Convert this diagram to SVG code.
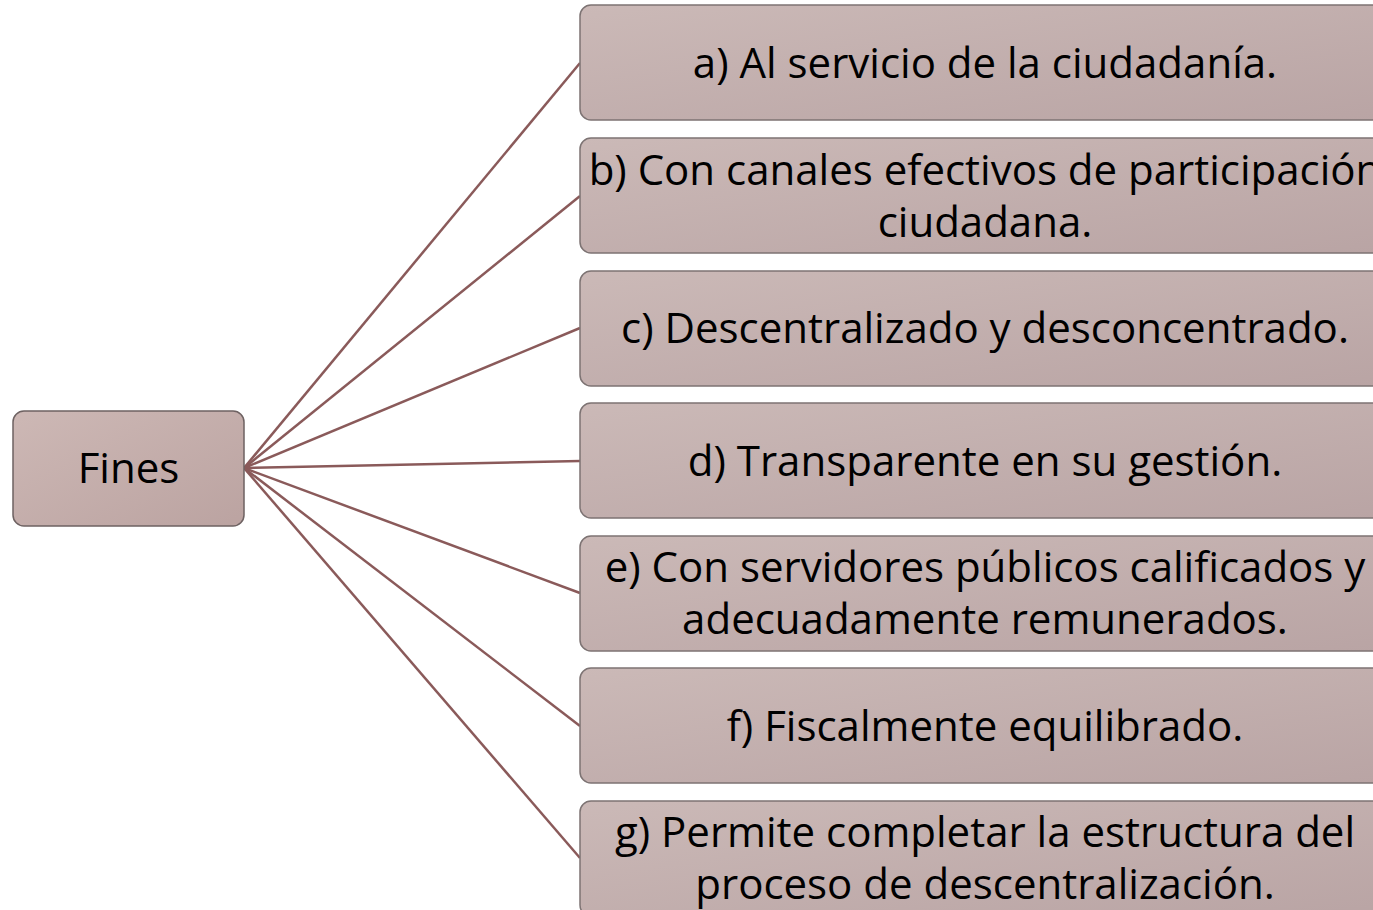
<svg xmlns="http://www.w3.org/2000/svg" width="1373" height="910" viewBox="0 0 1373 910">
<defs>
<linearGradient id="gb" x1="0" y1="0" x2="1" y2="1">
<stop offset="0" stop-color="#cbb9b7"/>
<stop offset="1" stop-color="#b9a4a4"/>
</linearGradient>
<linearGradient id="gf" x1="0" y1="0" x2="1" y2="1">
<stop offset="0" stop-color="#cdb8b5"/>
<stop offset="1" stop-color="#bba3a1"/>
</linearGradient>
<style>
.box{fill:url(#gb);stroke:#7d7373;stroke-width:1.5}
.fin{fill:url(#gf);stroke:#6e6262;stroke-width:1.5}
.t{font-family:"Open Sans","Noto Sans",sans-serif;font-size:42px;fill:#000;text-anchor:middle}
.c{stroke:#8a5a5a;stroke-width:2.5;fill:none}
</style>
</defs>
<g id="connectors">
<line class="c" x1="244" y1="468" x2="580" y2="63"/>
<line class="c" x1="244" y1="468" x2="580" y2="196"/>
<line class="c" x1="244" y1="468" x2="580" y2="328"/>
<line class="c" x1="244" y1="468" x2="580" y2="461"/>
<line class="c" x1="244" y1="468" x2="580" y2="593"/>
<line class="c" x1="244" y1="468" x2="580" y2="726"/>
<line class="c" x1="244" y1="468" x2="580" y2="858"/>
</g>
<g id="fines">
<rect class="fin" x="13" y="411" width="231" height="115" rx="11"/>
<text class="t" x="128.5" y="483">Fines</text>
</g>
<g id="a">
<rect class="box" x="580" y="5" width="810" height="115" rx="11"/>
<text class="t" x="985" y="78">a) Al servicio de la ciudadanía.</text>
</g>
<g id="b">
<rect class="box" x="580" y="138" width="810" height="115" rx="11"/>
<text class="t" x="985" y="185">b) Con canales efectivos de participación</text>
<text class="t" x="985" y="237">ciudadana.</text>
</g>
<g id="c">
<rect class="box" x="580" y="271" width="810" height="115" rx="11"/>
<text class="t" x="985" y="343">c) Descentralizado y desconcentrado.</text>
</g>
<g id="d">
<rect class="box" x="580" y="403" width="810" height="115" rx="11"/>
<text class="t" x="985" y="476">d) Transparente en su gestión.</text>
</g>
<g id="e">
<rect class="box" x="580" y="536" width="810" height="115" rx="11"/>
<text class="t" x="985" y="582">e) Con servidores públicos calificados y</text>
<text class="t" x="985" y="634">adecuadamente remunerados.</text>
</g>
<g id="f">
<rect class="box" x="580" y="668" width="810" height="115" rx="11"/>
<text class="t" x="985" y="741">f) Fiscalmente equilibrado.</text>
</g>
<g id="g">
<rect class="box" x="580" y="801" width="810" height="115" rx="11"/>
<text class="t" x="985" y="847">g) Permite completar la estructura del</text>
<text class="t" x="985" y="899">proceso de descentralización.</text>
</g>
</svg>
